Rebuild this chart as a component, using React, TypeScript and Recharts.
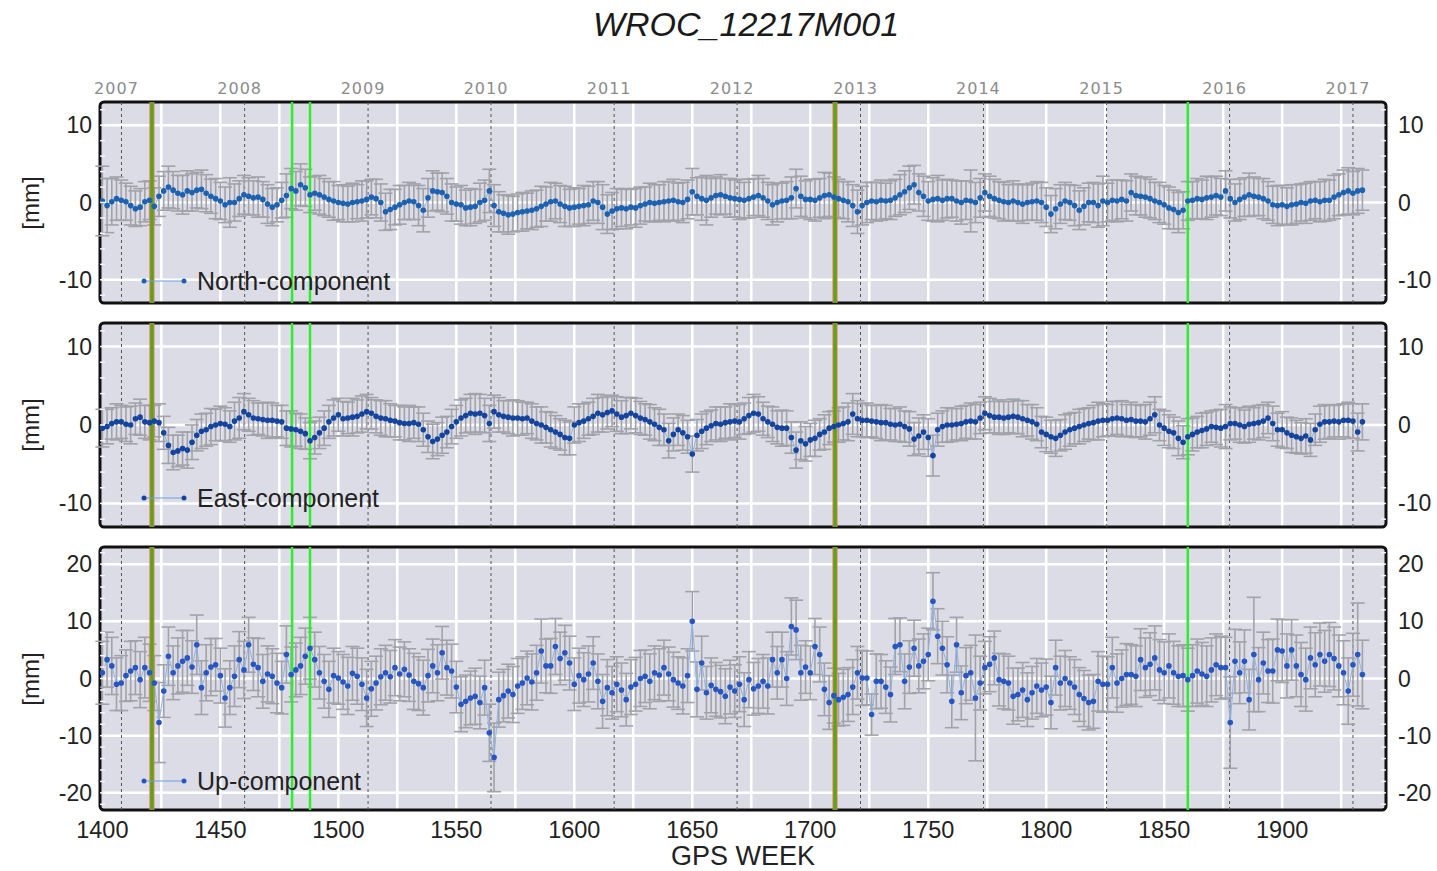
import React from "react";
import {
  LineChart,
  Line,
  XAxis,
  YAxis,
  CartesianGrid,
  ReferenceLine,
  ReferenceArea,
  ErrorBar,
} from "recharts";

// weekly solutions, sampled every second GPS week
const WEEK_START = 1400;
const WEEK_STEP = 2;
const X_DOMAIN: [number, number] = [1399, 1944];

const weekTicks = [1400, 1450, 1500, 1550, 1600, 1650, 1700, 1750, 1800, 1850, 1900];
const gridWeeks = [1425, 1450, 1475, 1500, 1525, 1550, 1575, 1600, 1625, 1650, 1675, 1700, 1725, 1750, 1775, 1800, 1825, 1850, 1875, 1900, 1925];
const yearWeeks = [1408.1, 1460.3, 1512.6, 1564.7, 1616.9, 1669.0, 1721.3, 1773.4, 1825.6, 1877.7, 1930.0];
const yearLabels = ["2007", "2008", "2009", "2010", "2011", "2012", "2013", "2014", "2015", "2016", "2017"];
const equipWeeks = [1421, 1710.5];
const greenWeeks = [1480.4, 1488, 1860];

const neTicks = [-12, -10, -8, -6, -4, -2, 0, 2, 4, 6, 8, 10, 12];
const upTicks = [-22, -20, -18, -16, -14, -12, -10, -8, -6, -4, -2, 0, 2, 4, 6, 8, 10, 12, 14, 16, 18, 20, 22];

const northVals = [
  0.2, -0.4, 0.1, 0.5, 0.3, 0.1, -0.4, -0.8, -0.6, 0.1,
  0.3, -0.5, 0.8, 1.5, 2.0, 1.6, 1.2, 1.0, 1.5, 1.3,
  1.6, 1.7, 1.2, 0.8, 0.5, 0.2, -0.3, 0.0, 0.0, 0.5,
  1.0, 0.8, 0.6, 0.7, 0.4, -0.2, -0.6, -0.3, 0.3, 0.9,
  1.8, 1.5, 2.3, 1.9, 1.0, 1.2, 1.0, 0.7, 0.4, 0.2,
  0.0, -0.1, -0.2, 0.0, 0.1, 0.2, 0.4, 0.7, 0.5, 0.0,
  -1.2, -0.9, -0.6, -0.3, 0.0, 0.2, 0.1, -0.4, -1.0, 0.6,
  1.5, 1.4, 1.3, 0.8, 0.0, -0.2, -0.3, -0.7, -0.6, -0.5,
  0.0, 0.3, 1.5, -0.4, -1.2, -1.4, -1.6, -1.5, -1.3, -1.2,
  -1.1, -1.0, -0.8, -0.5, -0.2, 0.1, 0.2, -0.2, -0.5, -0.7,
  -0.6, -0.5, -0.4, -0.3, 0.2, 0.0, -0.6, -1.5, -1.1, -0.8,
  -0.7, -0.8, -0.6, -0.7, -0.4, -0.2, 0.0, -0.1, 0.0, 0.1,
  0.2, 0.3, 0.1, 0.0, 0.4, 1.4, 0.8, 0.5, 0.3, 0.6,
  0.9, 1.0, 0.8, 0.6, 0.5, 0.4, 0.3, 0.5, 0.7, 0.9,
  0.6, 0.2, -0.3, 0.0, 0.2, 0.3, 0.6, 1.8, 0.8, 0.4,
  0.4, 0.3, 0.6, 0.9, 1.0, 0.7, 0.5, 0.3, 0.1, -0.4,
  -1.2, -0.4, 0.0, 0.2, 0.1, 0.3, 0.2, 0.3, 0.6, 1.0,
  1.4, 1.9, 2.3, 1.3, 0.8, 0.2, 0.4, 0.5, 0.3, 0.5,
  0.5, 0.2, 0.0, 0.3, 0.2, 0.0, 0.6, 1.3, 0.8, 0.5,
  0.3, 0.1, 0.0, 0.2, 0.0, -0.2, 0.0, 0.1, 0.2, 0.0,
  -0.6, -1.5, -0.8, -0.2, 0.2, 0.0, -0.4, -1.0, -0.5, 0.0,
  0.0, -0.4, 0.2, 0.0, 0.3, 0.2, 0.4, 0.2, 1.3, 0.9,
  0.8, 0.7, 0.5, 0.2, 0.0, -0.3, -0.7, -0.9, -1.3, -1.0,
  0.2, 0.3, 0.5, 0.4, 0.6, 0.7, 0.9, 0.7, 1.5, 0.5,
  0.0, 0.4, 0.7, 1.0, 0.8, 0.7, 0.5, 0.2, -0.3, -0.4,
  -0.3, -0.5, -0.3, -0.2, 0.0, -0.1, 0.2, 0.3, 0.1, 0.3,
  0.3, 0.7, 1.0, 1.3, 1.5, 1.2, 1.5, 1.6,
];

const northErr = [
  4.5, 3.5, 3.0, 2.8, 2.6, 2.4, 2.5, 2.3, 2.4, 2.6,
  2.5, 2.4, 2.6, 2.5, 2.7, 2.4, 2.3, 2.5, 2.6, 2.4,
  2.3, 2.5, 2.4, 2.2, 2.6, 2.4, 2.3, 3.2, 2.4, 2.3,
  2.5, 2.4, 2.2, 2.6, 2.3, 2.5, 2.4, 2.2, 2.3, 2.8,
  2.6, 2.5, 2.7, 2.4, 2.3, 2.2, 2.5, 2.4, 2.3, 2.5,
  2.2, 2.4, 2.3, 2.5, 2.2, 2.6, 2.4, 2.3, 2.5, 2.4,
  2.4, 2.6, 2.3, 2.5, 2.2, 2.4, 2.3, 2.6, 2.8, 2.5,
  2.6, 2.4, 2.5, 2.3, 2.4, 2.2, 2.5, 2.3, 2.4, 2.2,
  2.5, 2.6, 2.8, 2.7, 2.6, 2.4, 2.5, 2.3, 2.4, 2.5,
  2.3, 2.5, 2.4, 2.6, 2.2, 2.5, 2.3, 2.4, 2.6, 2.4,
  2.5, 2.3, 2.6, 2.4, 2.5, 2.7, 2.9, 2.5, 2.4, 2.6,
  2.4, 2.6, 2.3, 2.5, 2.4, 2.2, 2.5, 2.4, 2.3, 2.6,
  2.5, 2.7, 2.4, 2.6, 2.5, 3.0, 2.4, 2.8, 3.2, 2.5,
  2.4, 2.6, 2.3, 2.5, 2.4, 2.6, 2.3, 2.5, 2.4, 2.6,
  2.5, 2.4, 2.6, 2.5, 2.3, 2.4, 2.7, 2.5, 2.6, 2.4,
  2.6, 2.7, 2.5, 3.0, 2.8, 2.6, 2.5, 2.4, 2.6, 2.7,
  2.8, 2.5, 2.6, 2.4, 2.5, 2.6, 2.3, 2.5, 2.4, 2.6,
  2.7, 2.8, 2.5, 2.4, 2.6, 2.5, 2.8, 3.0, 2.6, 2.5,
  2.4, 2.6, 2.8, 2.5, 4.0, 2.6, 2.5, 2.4, 2.6, 2.5,
  2.4, 2.5, 2.3, 2.6, 2.4, 2.5, 2.3, 2.4, 2.5, 2.6,
  2.5, 2.4, 2.6, 2.5, 2.4, 2.3, 2.6, 2.5, 2.4, 2.5,
  2.6, 2.8, 3.2, 2.5, 2.6, 2.7, 2.5, 2.6, 2.4, 2.5,
  2.4, 2.6, 2.5, 2.4, 2.6, 2.5, 2.7, 2.5, 2.6, 2.4,
  2.5, 2.4, 2.6, 2.5, 2.8, 2.6, 2.5, 2.4, 2.6, 2.5,
  2.4, 2.6, 2.5, 2.8, 2.5, 2.4, 2.6, 2.5, 2.4, 2.6,
  2.5, 2.4, 2.6, 2.5, 2.4, 2.6, 2.5, 2.4, 2.6, 2.7,
  2.6, 2.8, 2.7, 2.9, 3.0, 2.8, 2.9, 2.6,
];

const eastVals = [
  -0.4, -0.2, 0.2, 0.4, 0.4, 0.1, 0.0, 0.8, 1.0, 0.4,
  0.3, 0.5, 0.3, -1.0, -2.6, -3.5, -3.3, -3.0, -3.2, -2.2,
  -1.3, -0.8, -0.6, -0.2, 0.0, 0.2, 0.1, -0.2, 0.5, 0.9,
  1.7, 1.3, 0.9, 0.8, 0.7, 0.6, 0.6, 0.5, 0.4, -0.4,
  -0.5, -0.6, -0.8, -1.1, -2.0, -1.6, -1.0, -0.4, 0.4, 0.9,
  1.3, 0.8, 0.9, 1.0, 1.1, 1.4, 1.7, 1.5, 1.1, 0.9,
  0.8, 0.6, 0.5, 0.3, 0.2, 0.2, 0.3, 0.1, -0.6, -1.5,
  -2.1, -1.8, -1.3, -0.9, -0.2, 0.4, 0.9, 1.2, 1.5, 1.4,
  1.5, 1.2, 0.2, 1.7, 1.3, 1.1, 1.0, 0.9, 0.9, 0.8,
  0.9, 0.5, 0.2, 0.0, -0.3, -0.6, -0.9, -1.2, -1.6, -1.7,
  0.0, 0.3, 0.5, 0.8, 1.1, 1.5, 1.3, 1.6, 1.8, 1.4,
  1.0, 1.2, 1.5, 1.2, 0.9, 0.7, 0.4, 0.1, -0.3, -0.6,
  -2.0, -1.2, -0.6, -1.0, -1.5, -3.7, -1.3, -0.8, -0.4, -0.1,
  0.2, 0.1, 0.3, 0.4, 0.5, 0.4, 0.8, 1.2, 1.5, 1.4,
  0.8, 0.4, 0.1, -0.3, -0.4, -0.4, -1.6, -3.2, -2.0, -2.4,
  -1.9, -1.7, -1.2, -0.9, -0.4, -0.2, 0.0, 0.2, 0.4, 1.4,
  0.8, 0.6, 0.6, 0.5, 0.4, 0.3, 0.3, 0.1, 0.0, 0.1,
  -0.2, -0.5, -1.8, -1.4, -0.9, -1.6, -3.9, -0.6, -0.2, 0.0,
  0.0, 0.1, 0.2, 0.4, 0.5, 0.4, 0.9, 1.5, 1.2, 1.0,
  1.0, 0.9, 1.0, 1.1, 1.0, 0.8, 0.6, 0.4, 0.1, -0.9,
  -1.2, -1.5, -1.7, -1.3, -0.9, -0.6, -0.4, -0.2, 0.0, 0.2,
  0.3, 0.5, 0.6, 0.6, 0.8, 0.9, 0.8, 0.6, 0.7, 0.5,
  0.5, 0.4, 0.8, 1.3, 0.0, -0.4, -0.8, -1.0, -1.7, -2.2,
  -1.5, -1.2, -0.9, -0.7, -0.5, -0.2, -0.3, -0.4, -0.2, 0.2,
  0.2, 0.0, -0.2, 0.1, 0.2, 0.3, 0.5, 0.9, 0.2, -0.6,
  -0.6, -1.0, -1.3, -1.5, -1.7, -1.4, -1.9, -0.6, 0.1, 0.4,
  0.4, 0.5, 0.4, 0.6, 0.6, 0.5, -0.9, 0.4,
];

const eastErr = [
  2.4, 2.2, 2.0, 2.3, 2.1, 2.2, 2.4, 2.0, 2.3, 2.1,
  2.2, 2.0, 2.4, 2.1, 2.3, 2.2, 2.0, 2.1, 2.3, 2.2,
  2.0, 2.2, 2.1, 2.3, 2.0, 2.2, 2.1, 2.0, 2.4, 2.6,
  2.3, 2.1, 2.2, 2.0, 2.1, 2.3, 2.2, 2.0, 2.1, 2.2,
  2.3, 2.1, 2.2, 2.0, 2.3, 2.1, 2.0, 2.2, 2.1, 2.3,
  2.1, 2.2, 2.0, 2.4, 2.1, 2.3, 2.2, 2.0, 2.1, 2.2,
  2.3, 2.1, 2.0, 2.2, 2.1, 2.3, 2.0, 2.2, 2.1, 2.0,
  2.2, 2.1, 2.3, 2.0, 2.2, 2.1, 2.3, 2.2, 2.4, 2.6,
  2.4, 2.2, 2.3, 2.1, 2.2, 2.0, 2.1, 2.3, 2.2, 2.1,
  2.0, 2.2, 2.1, 2.3, 2.0, 2.2, 2.1, 2.0, 2.2, 2.1,
  2.3, 2.4, 2.2, 2.1, 2.3, 2.4, 2.2, 2.1, 2.0, 2.2,
  2.1, 2.3, 2.0, 2.2, 2.1, 2.0, 2.2, 2.1, 2.3, 2.0,
  2.2, 2.1, 2.0, 2.2, 2.1, 2.3, 2.0, 2.2, 2.1, 2.0,
  2.1, 2.2, 2.0, 2.3, 2.1, 2.2, 2.0, 2.3, 2.4, 2.2,
  2.1, 2.0, 2.2, 2.1, 2.3, 2.2, 2.0, 2.3, 2.4, 2.2,
  2.1, 2.3, 2.0, 2.2, 2.1, 2.0, 2.2, 2.1, 2.4, 2.6,
  2.3, 2.1, 2.2, 2.0, 2.1, 2.3, 2.2, 2.0, 2.1, 2.2,
  2.0, 2.2, 2.1, 2.3, 2.2, 2.4, 2.6, 2.1, 2.0, 2.2,
  2.1, 2.0, 2.2, 2.1, 2.3, 2.2, 2.0, 2.1, 2.2, 2.0,
  2.2, 2.1, 2.0, 2.2, 2.1, 2.3, 2.0, 2.2, 2.1, 2.0,
  2.2, 2.1, 2.3, 2.0, 2.2, 2.1, 2.0, 2.2, 2.1, 2.0,
  2.2, 2.4, 2.1, 2.0, 2.2, 2.1, 2.3, 2.0, 2.2, 2.1,
  2.0, 2.2, 2.1, 2.3, 2.0, 2.2, 2.1, 2.0, 2.2, 2.1,
  2.3, 2.1, 2.0, 2.2, 2.1, 2.0, 2.2, 2.4, 2.8, 2.1,
  2.0, 2.2, 2.1, 2.3, 2.0, 2.2, 2.1, 2.0, 2.2, 2.1,
  2.3, 2.0, 2.2, 2.1, 2.0, 2.2, 2.1, 2.0, 2.3, 2.2,
  2.1, 2.0, 2.2, 2.1, 2.3, 2.2, 2.4, 2.3,
];

const upVals = [
  1.0, 3.3, 2.2, -1.0, -0.8, 0.5, 1.3, 1.9, -0.2, 1.9,
  1.0, -0.8, -7.7, -2.2, 3.9, 1.0, 2.2, 3.0, 3.6, 2.0,
  5.9, -1.6, 1.0, 2.0, 2.4, 0.5, -3.4, -1.6, 0.4, 3.3,
  1.5, 5.9, 2.5, 1.9, -0.5, 0.8, 0.4, -0.8, -1.6, 4.2,
  0.7, 1.5, 2.2, 3.9, 5.3, 3.3, 1.0, -0.5, -1.9, 0.5,
  0.1, -0.6, -1.3, 0.9, 0.4, -1.0, -3.4, -1.8, -0.8, 0.3,
  1.0, 0.3, 1.9, 0.8, 1.6, 0.6, -0.5, -0.9, -1.6, 0.5,
  2.2, 1.0, 4.5, 1.9, 1.3, -1.5, -4.5, -4.0, -3.4, -3.1,
  -4.2, -1.6, -9.5, -13.8, -3.7, -3.0, -2.2, -2.8, -1.3, -0.8,
  0.1, -0.6, 1.0, 4.8, 2.2, 2.2, 5.6, 3.5, 4.5, 2.7,
  -1.0, 0.5, -0.2, 0.8, 2.7, -0.5, -4.0, -1.6, -2.5, -1.0,
  -2.0, -3.7, -1.5, -1.0, 0.0, 0.4, -0.5, 1.0, 0.6, 1.9,
  0.8, -0.2, -0.8, -1.3, 0.5, 10.0, -1.9, 2.7, -2.5, -1.2,
  -1.9, -2.3, -3.1, -1.5, -2.2, -1.0, -3.7, -0.2, -1.8, -1.3,
  -0.5, -1.3, 3.3, 1.0, 3.3, 0.0, 9.1, 8.5, 1.0, 2.0,
  1.0, 5.6, 4.2, -1.9, -4.2, -3.0, -3.7, -3.3, -2.8, -1.5,
  1.0, 0.1, 0.1, -6.3, -0.5, -0.5, -1.5, -2.8, 5.6, 5.9,
  -0.5, 2.0, 5.3, 2.2, 3.0, 4.2, 13.5, 7.4, 5.3, 2.4,
  -4.0, 5.9, -2.5, 0.5, 1.0, -3.4, -0.8, 1.9, 2.5, 3.6,
  -0.2, -0.5, -0.8, -3.1, -2.8, -2.0, -3.7, -2.5, -1.3, -2.0,
  -1.5, -4.2, 1.9, -0.8, 0.0, -0.8, -1.5, -2.8, -3.5, -4.2,
  -4.0, -0.5, -1.0, -1.0, 1.9, -0.8, 0.0, 0.7, 0.7, 0.4,
  3.3, 1.9, 2.5, 3.6, 1.5, 1.0, 2.2, 1.0, 0.4, 0.5,
  -0.2, 0.5, 1.3, 0.8, 0.4, 1.5, 2.4, 1.9, 1.9, -7.7,
  3.0, 1.0, 3.0, -3.7, 4.2, -0.2, 2.7, 1.3, 1.3, 5.0,
  4.8, 2.2, 5.0, 2.2, 0.7, -0.2, 3.6, 2.4, 4.2, 3.0,
  4.2, 3.5, 2.2, 1.0, -2.2, 2.4, 4.2, 0.7,
];

const upErr = [
  5.5, 4.8, 5.0, 4.6, 4.8, 4.5, 5.2, 4.7, 4.9, 5.3,
  5.0, 4.8, 7.0, 4.6, 5.1, 4.7, 4.9, 5.4, 4.8, 4.6,
  5.2, 4.7, 4.9, 5.0, 4.6, 4.8, 5.1, 4.7, 5.3, 4.9,
  5.0, 4.8, 4.6, 5.1, 4.7, 4.9, 4.8, 5.2, 4.6, 5.0,
  4.8, 4.7, 5.0, 4.9, 5.4, 4.8, 4.6, 4.7, 4.9, 4.8,
  4.6, 4.8, 5.0, 4.7, 4.9, 4.6, 5.0, 4.8, 4.7, 4.9,
  4.8, 4.6, 4.9, 4.7, 4.8, 4.6, 4.9, 4.7, 4.8, 4.6,
  4.7, 4.9, 4.6, 4.8, 4.7, 4.5, 4.8, 4.6, 4.7, 4.9,
  4.6, 4.8, 5.0, 6.0, 4.8, 4.6, 4.7, 4.9, 4.8, 4.6,
  4.7, 4.9, 4.8, 5.6, 4.7, 4.8, 4.9, 4.6, 4.8, 4.7,
  4.6, 4.8, 4.7, 4.9, 4.6, 4.8, 4.7, 4.9, 4.6, 4.8,
  4.7, 4.6, 4.8, 4.7, 4.9, 4.6, 4.8, 4.7, 4.6, 4.8,
  4.7, 4.8, 4.6, 4.9, 4.7, 5.2, 4.8, 4.7, 4.6, 4.8,
  4.7, 4.6, 4.8, 4.7, 4.6, 4.8, 4.7, 4.9, 4.6, 4.8,
  4.7, 4.9, 4.8, 4.6, 4.8, 4.7, 5.0, 5.2, 4.8, 4.6,
  4.7, 4.9, 4.8, 4.6, 4.7, 4.8, 4.6, 4.9, 4.7, 4.8,
  4.6, 4.8, 4.7, 3.6, 4.8, 4.7, 4.6, 4.8, 4.9, 4.7,
  4.8, 4.6, 4.9, 4.7, 4.8, 4.6, 5.0, 4.8, 4.7, 4.9,
  4.6, 4.8, 4.7, 4.9, 4.8, 11.0, 4.7, 4.6, 4.8, 4.7,
  4.6, 4.8, 4.7, 4.9, 4.6, 4.8, 4.7, 4.6, 4.8, 4.7,
  4.9, 4.6, 4.8, 4.7, 4.9, 4.6, 4.8, 4.7, 4.9, 4.8,
  4.7, 5.2, 4.9, 4.8, 5.3, 5.1, 5.0, 5.4, 5.2, 5.3,
  5.4, 5.2, 5.5, 5.6, 5.3, 5.4, 5.6, 5.5, 5.3, 5.4,
  5.5, 5.4, 5.6, 5.5, 5.3, 5.6, 5.4, 5.5, 5.3, 8.0,
  5.6, 5.4, 5.5, 5.3, 10.0, 5.6, 5.4, 5.5, 5.6, 5.4,
  5.5, 5.6, 5.3, 5.4, 5.6, 5.5, 5.4, 5.6, 5.5, 5.4,
  5.6, 5.5, 5.4, 5.6, 5.8, 5.5, 9.0, 6.0,
];

const PLOT_LEFT = 100;
const PLOT_RIGHT = 1386;
const FONT = "'Liberation Sans', Arial, sans-serif";

const toRows = (vals: number[], errs: number[]) =>
  vals.map((v, i) => ({ week: WEEK_START + i * WEEK_STEP, v, e: errs[i] }));

const makeYTick = (side: "L" | "R") => (props: any) => {
  const { y, payload } = props;
  const v = payload.value;
  const x0 = side === "L" ? PLOT_LEFT : PLOT_RIGHT;
  return (
    <g>
      <line x1={x0} x2={side === "L" ? x0 + 5 : x0 - 5} y1={y} y2={y} stroke="#f6f6fa" strokeWidth={1.5} />
      {v % 10 === 0 && (
        <text
          x={side === "L" ? x0 - 8 : x0 + 12}
          y={y}
          textAnchor={side === "L" ? "end" : "start"}
          dominantBaseline="central"
          fontSize={23}
          fill="#222"
          fontFamily={FONT}
        >
          {v}
        </text>
      )}
    </g>
  );
};

const TopTick = (props: any) => {
  const { x, y, index } = props;
  return (
    <text x={x - 5} y={y} textAnchor="middle" fontSize={16} fill="#8c8c8c" fontFamily="'DejaVu Sans', sans-serif" letterSpacing={1}>
      {yearLabels[index]}
    </text>
  );
};

interface PanelProps {
  vals: number[];
  errs: number[];
  yDomain: [number, number];
  yTicks: number[];
  yGrid: number[];
  top: number;
  height: number;
  margin: { top: number; right: number; bottom: number; left: number };
  axis: "top" | "none" | "bottom";
  dotColor: string;
}

function Panel({ vals, errs, yDomain, yTicks, yGrid, top, height, margin, axis, dotColor }: PanelProps) {
  const rows = toRows(vals, errs);
  return (
    <div style={{ position: "absolute", left: 0, top }}>
      <LineChart width={1437} height={height} data={rows} margin={margin}>
        <CartesianGrid
          fill="#dcdce7"
          fillOpacity={1}
          stroke="#ffffff"
          strokeWidth={2.5}
          verticalValues={gridWeeks}
          horizontalValues={yGrid}
        />
        {axis === "top" && (
          <XAxis
            type="number"
            dataKey="week"
            orientation="top"
            domain={X_DOMAIN}
            allowDataOverflow
            ticks={yearWeeks}
            interval={0}
            height={42}
            tickSize={0}
            tickMargin={8}
            axisLine={false}
            tickLine={false}
            tick={<TopTick />}
          />
        )}
        {axis === "none" && <XAxis type="number" dataKey="week" domain={X_DOMAIN} allowDataOverflow hide />}
        {axis === "bottom" && (
          <XAxis
            type="number"
            dataKey="week"
            domain={X_DOMAIN}
            allowDataOverflow
            ticks={weekTicks}
            interval={0}
            height={40}
            tickSize={0}
            tickMargin={11}
            axisLine={false}
            tickLine={false}
            tick={{ fontSize: 23.5, fill: "#222", fontFamily: FONT }}
          />
        )}
        <YAxis
          type="number"
          domain={yDomain}
          allowDataOverflow
          ticks={yTicks}
          interval={0}
          width={92}
          tickSize={0}
          axisLine={false}
          tickLine={false}
          tick={makeYTick("L")}
        />
        <YAxis
          yAxisId="R"
          orientation="right"
          type="number"
          domain={yDomain}
          allowDataOverflow
          ticks={yTicks}
          interval={0}
          width={47}
          tickSize={0}
          axisLine={false}
          tickLine={false}
          tick={makeYTick("R")}
        />
        {yearWeeks.map((w) => (
          <ReferenceLine key={"y" + w} x={w} stroke="#555" strokeWidth={1} strokeDasharray="3 3" />
        ))}
        <Line
          type="linear"
          dataKey="v"
          stroke="#8fb3e3"
          strokeWidth={1}
          dot={{ r: 2.8, fill: dotColor, stroke: dotColor, strokeWidth: 0 }}
          activeDot={false}
          isAnimationActive={false}
        >
          <ErrorBar dataKey="e" direction="y" width={7} stroke="#a2a2aa" strokeWidth={1.6} isAnimationActive={false} />
        </Line>
        {equipWeeks.map((w) => (
          <ReferenceLine key={"r" + w} x={w} stroke="#e07652" strokeWidth={5} />
        ))}
        {equipWeeks.map((w) => (
          <ReferenceLine key={"o" + w} x={w} stroke="#4fab14" strokeWidth={3} />
        ))}
        {greenWeeks.map((w) => (
          <ReferenceLine key={"g" + w} x={w} stroke="#2ded2d" strokeWidth={2.5} />
        ))}
        <ReferenceArea
          x1={X_DOMAIN[0]}
          x2={X_DOMAIN[1]}
          y1={yDomain[0]}
          y2={yDomain[1]}
          fill="none"
          fillOpacity={0}
          stroke="#111"
          strokeWidth={3}
          radius={4}
        />
      </LineChart>
    </div>
  );
}

function LegendEntry({ y, label, color }: { y: number; label: string; color: string }) {
  return (
    <g>
      <line x1={143} x2={185} y1={y} y2={y} stroke="#6f9ee0" strokeWidth={1.2} />
      <circle cx={144} cy={y} r={2.5} fill={color} />
      <circle cx={184} cy={y} r={2.5} fill={color} />
      <text x={197} y={y} dominantBaseline="central" fontSize={25} fill="#222" fontFamily={FONT}>
        {label}
      </text>
    </g>
  );
}

export default function App() {
  return (
    <div style={{ position: "absolute", left: 0, top: 0, width: 1437, height: 871, background: "#fff", overflow: "hidden" }}>
      <Panel
        vals={northVals}
        errs={northErr}
        yDomain={[-13, 13]}
        yTicks={neTicks}
        yGrid={[-10, 0, 10]}
        top={60}
        height={247}
        margin={{ top: 0, right: 4, bottom: 4, left: 8 }}
        axis="top"
        dotColor="#1d62b0"
      />
      <Panel
        vals={eastVals}
        errs={eastErr}
        yDomain={[-13, 13]}
        yTicks={neTicks}
        yGrid={[-10, 0, 10]}
        top={319}
        height={212}
        margin={{ top: 4, right: 4, bottom: 4, left: 8 }}
        axis="none"
        dotColor="#14449e"
      />
      <Panel
        vals={upVals}
        errs={upErr}
        yDomain={[-23, 23]}
        yTicks={upTicks}
        yGrid={[-20, -10, 0, 10, 20]}
        top={543}
        height={307}
        margin={{ top: 4, right: 4, bottom: 0, left: 8 }}
        axis="bottom"
        dotColor="#2856c0"
      />
      <svg width={1437} height={871} style={{ position: "absolute", left: 0, top: 0, pointerEvents: "none" }}>
        <text x={746} y={24} textAnchor="middle" dominantBaseline="central" fontSize={34} fontStyle="italic" fill="#1a1a1a" fontFamily={FONT}>
          WROC_12217M001
        </text>
        {[203, 425, 679].map((cy) => (
          <text
            key={cy}
            x={30}
            y={cy}
            transform={`rotate(-90 30 ${cy})`}
            textAnchor="middle"
            dominantBaseline="central"
            fontSize={24}
            fill="#222"
            fontFamily={FONT}
          >
            [mm]
          </text>
        ))}
        <LegendEntry y={281} label="North-component" color="#1d62b0" />
        <LegendEntry y={498} label="East-component" color="#14449e" />
        <LegendEntry y={781} label="Up-component" color="#2856c0" />
        <text x={743} y={856} textAnchor="middle" dominantBaseline="central" fontSize={27} fill="#222" fontFamily={FONT}>
          GPS WEEK
        </text>
      </svg>
    </div>
  );
}
